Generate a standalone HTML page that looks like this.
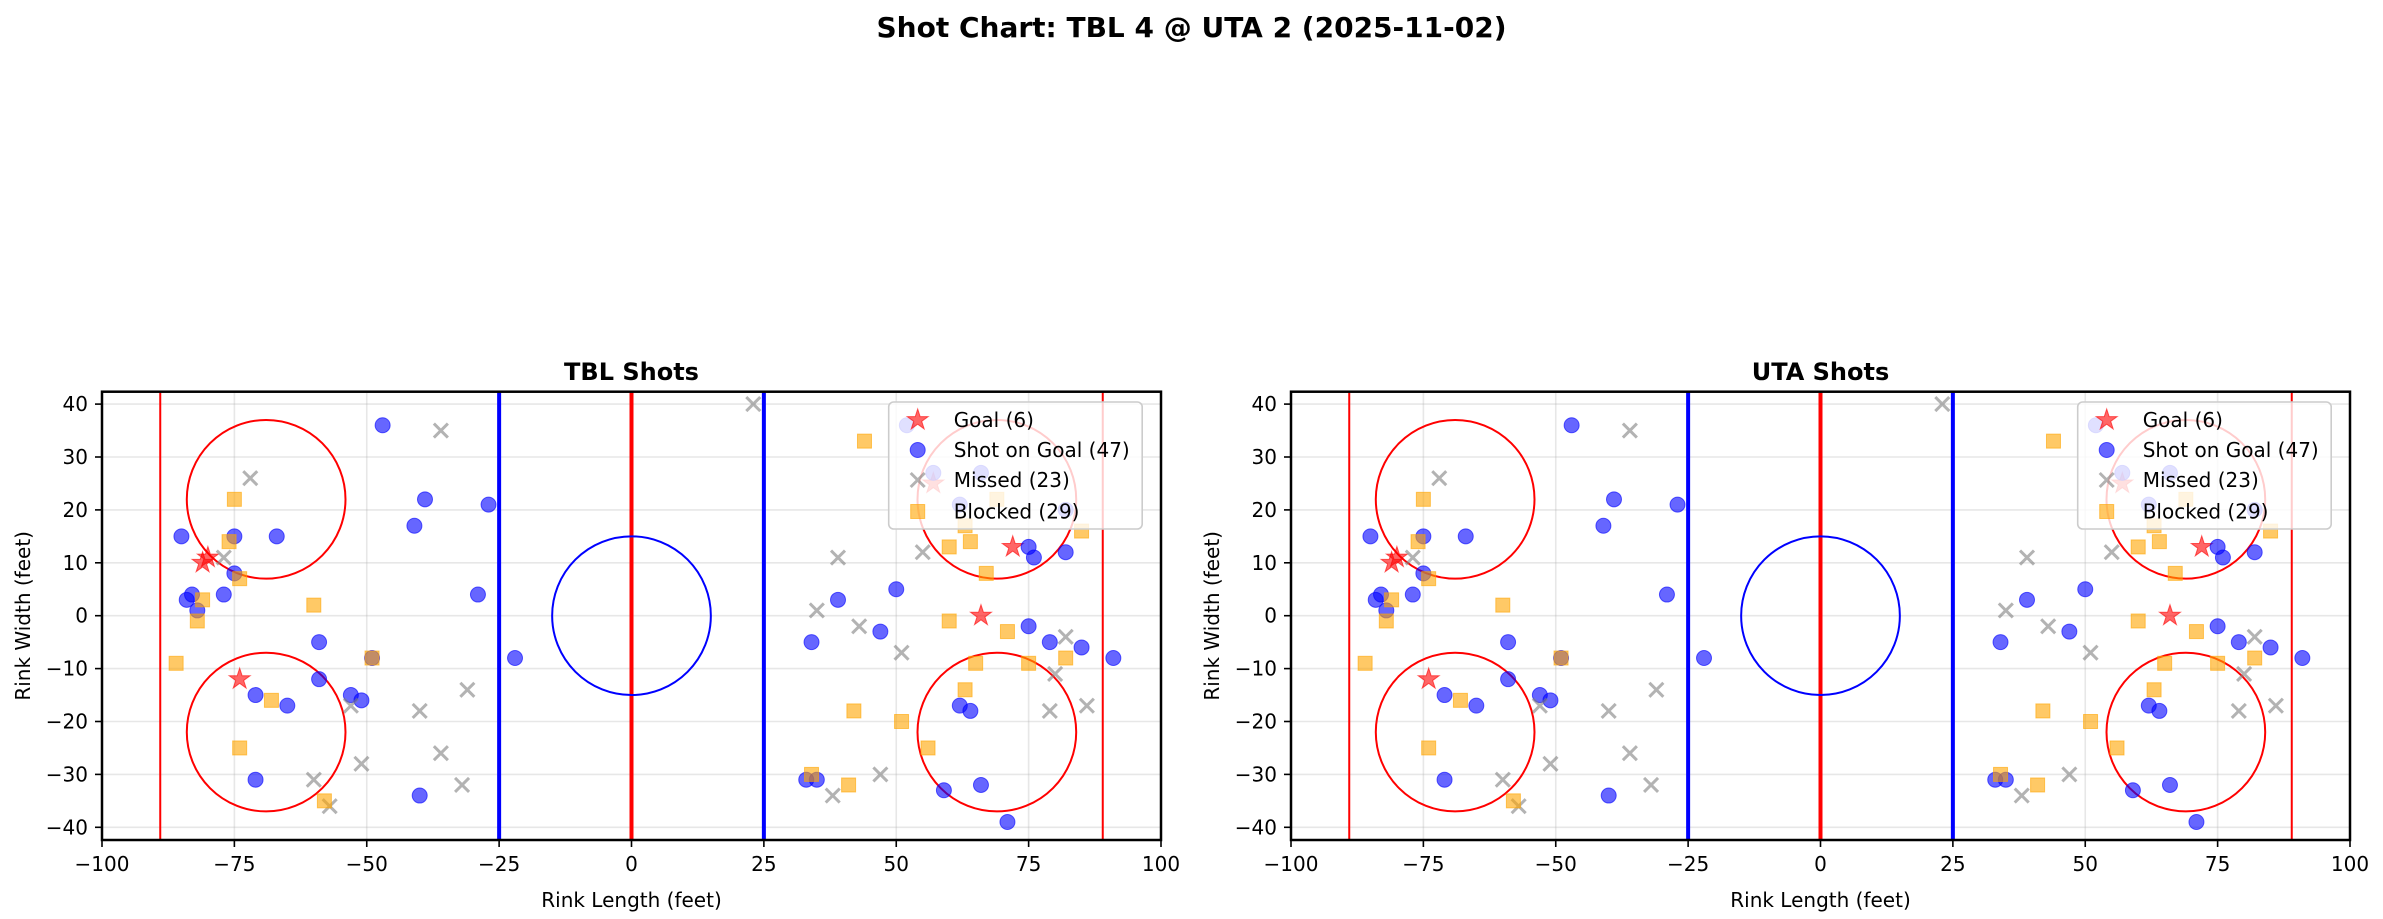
<!DOCTYPE html>
<html><head><meta charset="utf-8">
<style>
html,body{margin:0;padding:0;background:#fff;}
svg{display:block;font-family:"DejaVu Sans","Liberation Sans",sans-serif;}
</style></head>
<body>
<svg id="fig" width="2383" height="919" viewBox="0 0 2383 919" xmlns="http://www.w3.org/2000/svg">
<rect width="2383" height="919" fill="#fff"/>
<text x="1191.5" y="37" font-size="28" font-weight="bold" text-anchor="middle">Shot Chart: TBL 4 @ UTA 2 (2025-11-02)</text>
</svg>
<script>
// ---- TBL data (feet) ----
const tblGoalX = [-81, -80, -74, 72, 66, 57];
const tblGoalY = [10, 11, -12, 13, 0, 25];
const tblShotX = [-47,-39,-27,-41,-85,-75,-67,-75,-77,-83,-84,-82,-29,-59,-49,-22,-59,-71,-65,-53,-51,-71,-40,52,57,66,62,82,75,76,82,50,39,34,47,75,79,85,91,62,64,33,35,59,66,71];
const tblShotY = [36,22,21,17,15,15,15,8,4,4,3,1,4,-5,-8,-8,-12,-15,-17,-15,-16,-31,-34,36,27,27,21,20,13,11,12,5,3,-5,-3,-2,-5,-6,-8,-17,-18,-31,-31,-33,-32,-39];
const tblMissX = [-36,-72,-77,-31,-40,-53,-36,-51,-60,-32,-57,23,39,55,35,43,51,82,80,79,86,47,38];
const tblMissY = [35,26,11,-14,-18,-17,-26,-28,-31,-32,-36,40,11,12,1,-2,-7,-4,-11,-18,-17,-30,-34];
const tblBlockX = [-75,-76,-74,-81,-60,-82,-86,-68,-74,-58,-49,44,60,64,63,69,67,85,60,71,65,75,82,63,42,51,56,34,41];
const tblBlockY = [22,14,7,3,2,-1,-9,-16,-25,-35,-8,33,13,14,17,22,8,16,-1,-3,-9,-9,-8,-14,-18,-20,-25,-30,-32];
// ---- UTA data (feet) ----
const utaGoalX = [-81, -80, -74, 72, 66, 57];
const utaGoalY = [10, 11, -12, 13, 0, 25];
const utaShotX = [-47,-39,-27,-41,-85,-75,-67,-75,-77,-83,-84,-82,-29,-59,-49,-22,-59,-71,-65,-53,-51,-71,-40,52,57,66,62,82,75,76,82,50,39,34,47,75,79,85,91,62,64,33,35,59,66,71];
const utaShotY = [36,22,21,17,15,15,15,8,4,4,3,1,4,-5,-8,-8,-12,-15,-17,-15,-16,-31,-34,36,27,27,21,20,13,11,12,5,3,-5,-3,-2,-5,-6,-8,-17,-18,-31,-31,-33,-32,-39];
const utaMissX = [-36,-72,-77,-31,-40,-53,-36,-51,-60,-32,-57,23,39,55,35,43,51,82,80,79,86,47,38];
const utaMissY = [35,26,11,-14,-18,-17,-26,-28,-31,-32,-36,40,11,12,1,-2,-7,-4,-11,-18,-17,-30,-34];
const utaBlockX = [-75,-76,-74,-81,-60,-82,-86,-68,-74,-58,-49,44,60,64,63,69,67,85,60,71,65,75,82,63,42,51,56,34,41];
const utaBlockY = [22,14,7,3,2,-1,-9,-16,-25,-35,-8,33,13,14,17,22,8,16,-1,-3,-9,-9,-8,-14,-18,-20,-25,-30,-32];
const xTicks = [-100,-75,-50,-25,0,25,50,75,100];
const yTicks = [-40,-30,-20,-10,0,10,20,30,40];

const NS = "http://www.w3.org/2000/svg";
const fig = document.getElementById('fig');
function mk(tag, attrs, parent){
  const e = document.createElementNS(NS, tag);
  for (const k in attrs) e.setAttribute(k, attrs[k]);
  (parent||fig).appendChild(e);
  return e;
}
function starPts(cx, cy, R){
  const r = R*0.382; let p=[];
  for (let i=0;i<10;i++){
    const a = -Math.PI/2 + i*Math.PI/5;
    const rr = i%2===0?R:r;
    p.push((cx+rr*Math.cos(a)).toFixed(2)+','+(cy+rr*Math.sin(a)).toFixed(2));
  }
  return p.join(' ');
}
function drawStar(g,cx,cy){
  return mk('polygon',{points:starPts(cx,cy,11),fill:'rgba(255,0,0,0.6)',stroke:'rgba(255,0,0,0.6)','stroke-width':1},g);
}
function drawCircle(g,cx,cy){
  return mk('circle',{cx:cx,cy:cy,r:7.5,fill:'rgba(0,0,255,0.6)',stroke:'rgba(0,0,255,0.6)','stroke-width':1},g);
}
function drawX(g,cx,cy){
  const s=7;
  return mk('path',{d:`M${cx-s},${cy-s}L${cx+s},${cy+s}M${cx-s},${cy+s}L${cx+s},${cy-s}`,stroke:'rgba(128,128,128,0.6)','stroke-width':3,fill:'none'},g);
}
function drawSq(g,cx,cy){
  return mk('rect',{x:cx-7,y:cy-7,width:14,height:14,fill:'rgba(255,165,0,0.6)',stroke:'rgba(255,165,0,0.6)','stroke-width':1},g);
}

function makeChart(ox, title, team, gx, gy, sx_, sy_, mx, my, bx, by){
  const L=ox, R=ox+1059, T=391.7, B=840;
  const sx = x => L + (x+100)*(R-L)/200;
  const sy = y => 615.7 - y*5.29;
  const g = mk('g',{});
  
  
  const clip = mk('clipPath',{id:'clip-'+team},g);
  mk('rect',{x:L,y:T,width:R-L,height:B-T},clip);
  const plot = mk('g',{'clip-path':'url(#clip-'+team+')'},g);
  // grid
  xTicks.forEach(t=>{ const l=mk('line',{x1:sx(t),x2:sx(t),y1:T,y2:B,stroke:'#b0b0b0','stroke-opacity':0.3,'stroke-width':1.6},plot);
      });
  yTicks.forEach(t=>{ const l=mk('line',{x1:L,x2:R,y1:sy(t),y2:sy(t),stroke:'#b0b0b0','stroke-opacity':0.3,'stroke-width':1.6},plot);
      });
  // rink
  const rink = mk('g',{},plot);
   
  [-89,89].forEach(v=>mk('line',{x1:sx(v),x2:sx(v),y1:T,y2:B,stroke:'red','stroke-width':2},rink));
  [-25,25].forEach(v=>mk('line',{x1:sx(v),x2:sx(v),y1:T,y2:B,stroke:'blue','stroke-width':4},rink));
  mk('line',{x1:sx(0),x2:sx(0),y1:T,y2:B,stroke:'red','stroke-width':4},rink);
  mk('circle',{cx:sx(0),cy:sy(0),r:15*5.29,fill:'none',stroke:'blue','stroke-width':2},rink);
  [[-69,22],[-69,-22],[69,22],[69,-22]].forEach(c=>mk('circle',{cx:sx(c[0]),cy:sy(c[1]),r:15*5.29,fill:'none',stroke:'red','stroke-width':2},rink));
  // series
  for(let i=0;i<gx.length;i++){ const e=drawStar(plot,sx(gx[i]),sy(gy[i]));
      }
  for(let i=0;i<sx_.length;i++){ const e=drawCircle(plot,sx(sx_[i]),sy(sy_[i]));
      }
  for(let i=0;i<mx.length;i++){ const e=drawX(plot,sx(mx[i]),sy(my[i]));
      }
  for(let i=0;i<bx.length;i++){ const e=drawSq(plot,sx(bx[i]),sy(by[i]));
      }
  // spines
  const sp = mk('rect',{x:L,y:T,width:R-L,height:B-T,fill:'none',stroke:'#000','stroke-width':2.5},g);
   
  // ticks
  xTicks.forEach(t=>{ mk('line',{x1:sx(t),x2:sx(t),y1:B,y2:B+7,stroke:'#000','stroke-width':1.6},g);
    const tx=mk('text',{x:sx(t),y:871,'font-size':20,'text-anchor':'middle'},g);
    tx.textContent = t<0 ? '\u2212'+Math.abs(t) : String(t);
      });
  yTicks.forEach(t=>{ mk('line',{x1:L-7,x2:L,y1:sy(t),y2:sy(t),stroke:'#000','stroke-width':1.6},g);
    const ty=mk('text',{x:L-14,y:sy(t)+7,'font-size':20,'text-anchor':'end'},g);
    ty.textContent = t<0 ? '\u2212'+Math.abs(t) : String(t);
      });
  const xl=mk('text',{x:(L+R)/2,y:907,'font-size':20,'text-anchor':'middle'},g);
  xl.textContent='Rink Length (feet)';
   
  const yl=mk('text',{x:0,y:0,'font-size':20,'text-anchor':'middle',transform:`translate(${L-72},${(T+B)/2}) rotate(-90)`},g);
  yl.textContent='Rink Width (feet)';
   
  const tt=mk('text',{x:(L+R)/2,y:380,'font-size':24,'font-weight':'bold','text-anchor':'middle'},g);
  tt.textContent=title;
   
  // legend
  const lg = mk('g',{},g);
   
  const lx = L + 786.7;
  mk('rect',{x:lx,y:402,width:253.5,height:127,rx:5,fill:'rgba(255,255,255,0.8)',stroke:'#cccccc','stroke-width':1.6},lg);
  const labels=['Goal ('+gx.length+')','Shot on Goal (47)','Missed ('+mx.length+')','Blocked ('+bx.length+')'];
  const rows=[420,450,480,511.5];
  const mxp = lx+29;
  drawStar(lg,mxp,rows[0]); drawCircle(lg,mxp,rows[1]); drawX(lg,mxp,rows[2]); drawSq(lg,mxp,rows[3]);
  labels.forEach((s,i)=>{ const t=mk('text',{x:lx+65,y:rows[i]+7,'font-size':20},lg); t.textContent=s;
      });
}
makeChart(102, 'TBL Shots', 'tbl', tblGoalX, tblGoalY, tblShotX, tblShotY, tblMissX, tblMissY, tblBlockX, tblBlockY);
makeChart(1291, 'UTA Shots', 'uta', utaGoalX, utaGoalY, utaShotX, utaShotY, utaMissX, utaMissY, utaBlockX, utaBlockY);
</script>
</body></html>
